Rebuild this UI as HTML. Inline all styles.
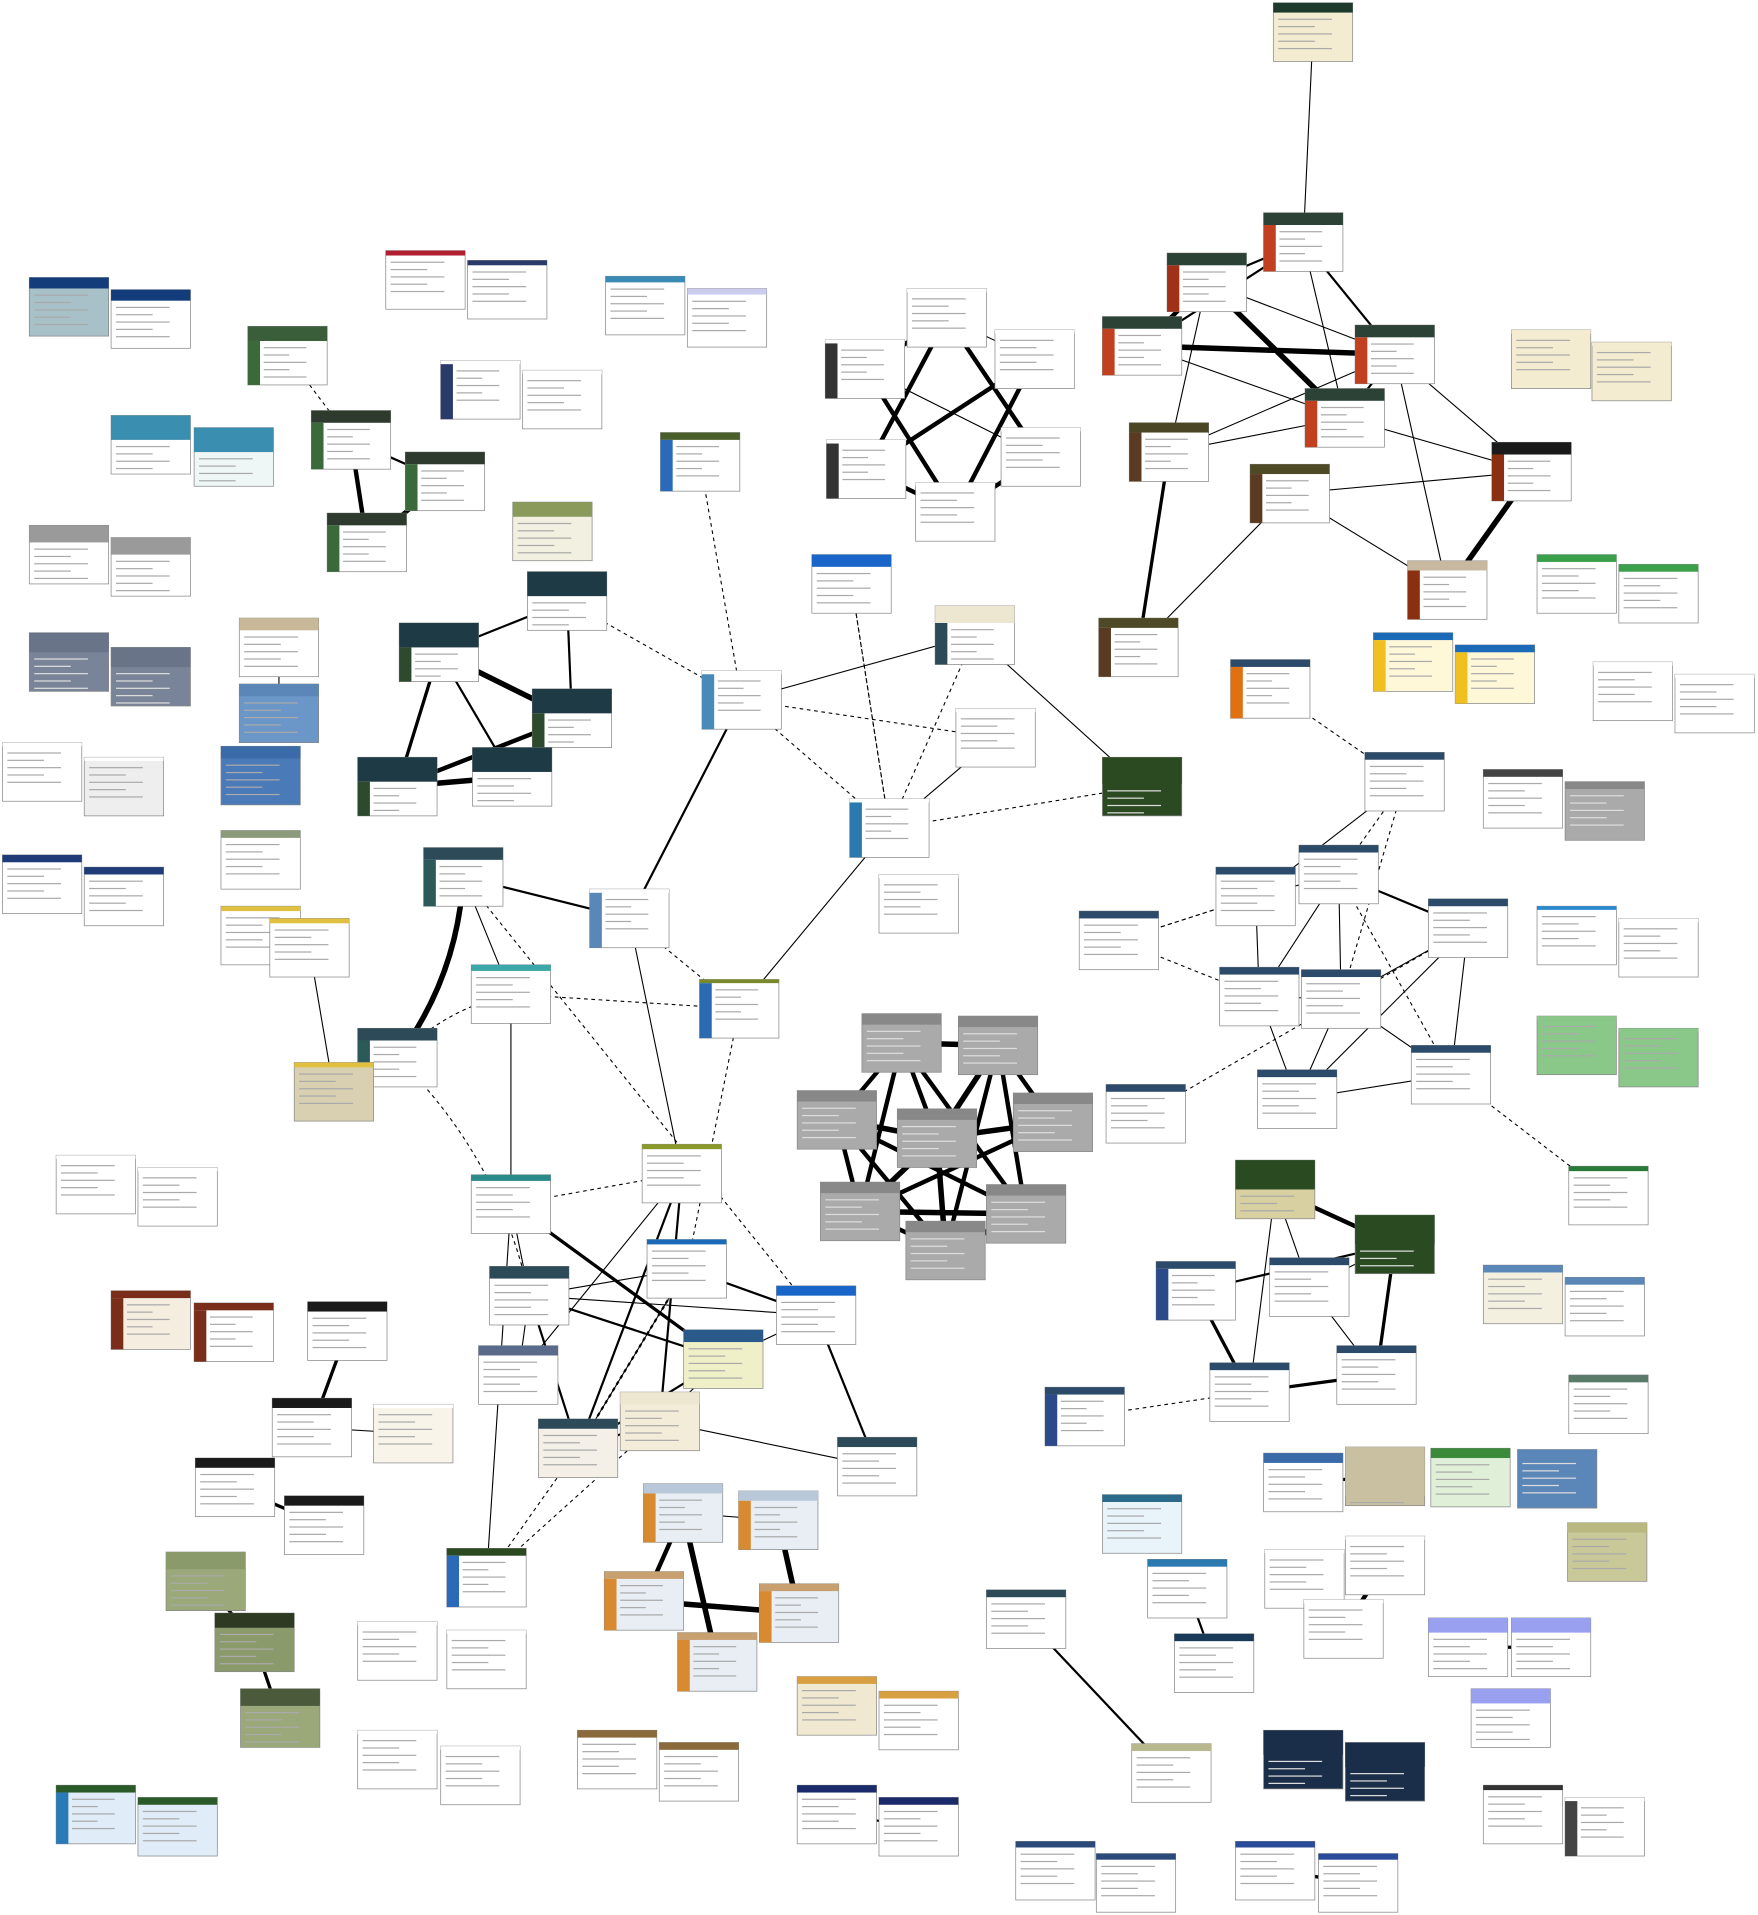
<!DOCTYPE html>
<html><head><meta charset="utf-8"><style>
html,body{margin:0;padding:0;background:#fff;}
svg{display:block;font-family:"Liberation Sans",sans-serif;}
</style></head><body>
<svg id="chart" width="1758" height="1915" viewBox="0 0 1440 1568" xmlns="http://www.w3.org/2000/svg">
<g id="edges"></g>
<g id="nodes"></g>
</svg>
<script>
// node ids, layout positions and thumbnail palette
const nodeIds = ["a1","a2","a3","a4","a5","a6","a7","a8","a9","a10","a11",
"b1","b2","b3","b4","b5","b6",
"l1","l2","l3","l4","l5","l6","l7","l8","l9","l10","l11","l12",
"p1","p2","p3","p4","p5","p6","g1","g2","g3","g4","o1","o2","e1","e2","e3","e4",
"t1","t2","t3","t4","t5","c1","c2","c3","c4","c5","c6","c7",
"s1","s2","s3","s4","s5","y1","y2","y3","w1","w2","r1","r2",
"k1","k2","k3","k4","k5",
"x1","x2","x3","x4","x5","x6","x7","x8",
"m1","m2","m3","m4","m5","m6","m7","m8","m9","m10","m11",
"lb1","lb2","lb3","lb4","lb5","v1","v2","v3","h1","h2","h3","h4","n1","n2","f1","f2","q1","q2","u1","u2","z1","z2","z3","z4","d1","d2",
"rb1","rb2","rb3","rb4","rb5","rb6","rb7","rb8","rb9","rb10","or1","bl1","bl2",
"cr1","cr2","gr1","gr2","wh1","wh2","gy1","gy2","ww1","ww2","lg1","lg2","sg1",
"dg1","dg2","dg3","dg4","dg5","dg6","dg7","pb1","pb2","sa1","bq1","bq2","bq3","bq4","ol1",
"tl1","tl2","tl3","wd1","wd2","wd3","lv1","lv2","lv3","nv1","nv2","gw1","gw2"];
const nodeX = [1043,1035,956,903,1110,1069,925,1024,1222,1153,900,
743,815,676,677,820,750,
24,91,91,159,24,91,24,91,2,69,2,69,
316,383,496,563,361,428,203,255,332,268,541,420,196,196,181,181,
432,327,436,293,387,575,766,783,696,903,665,720,
347,483,386,573,293,181,221,241,46,113,91,159,
252,223,306,160,233,
706,785,653,830,735,672,808,742,
386,526,530,401,636,560,392,441,508,686,366,
527,605,495,622,555,136,176,197,293,366,293,361,473,540,653,720,653,720,46,113,832,898,1012,1080,808,927,
1118,996,1064,1170,999,1066,1156,1030,884,906,1008,1125,1192,
1238,1304,1259,1326,1305,1372,1215,1282,1259,1326,1259,1326,1285,
1012,1110,947,1040,991,1095,856,1215,1282,1285,1035,1102,1172,1243,1284,
903,940,962,1036,1102,1068,1170,1238,1205,1035,1102,1215,1282];
const nodeY = [2,174,207,259,266,318,346,380,362,459,506,
236,270,278,360,350,395,
227,237,340,350,430,440,518,530,608,620,700,710,
205,213,226,236,295,303,267,336,370,420,354,411,506,560,611,680,
468,510,564,620,612,549,496,580,654,620,454,716,
694,728,790,802,842,742,752,870,946,956,1057,1067,
1066,1145,1150,1194,1225,
830,832,893,895,908,968,970,1000,
962,937,1015,1037,1053,1089,1102,1162,1140,1177,1268,
1215,1221,1287,1297,1337,1271,1321,1383,1328,1335,1417,1430,1417,1427,1373,1385,1462,1472,1462,1472,1508,1518,1508,1518,1302,1428,
616,710,692,736,792,794,856,876,746,888,540,518,528,
270,280,454,462,542,552,630,640,742,752,832,842,955,
950,995,1033,1030,1116,1102,1136,1036,1046,1126,1190,1185,1186,1187,1247,
1224,1277,1338,1269,1258,1310,1325,1325,1383,1417,1427,1462,1472];
const headerColors = ["#1e3a2c","#2c4236","#2c4236","#2c4236","#2c4236","#2c4236","#4a4524","#4f4a26","#1a1a1a","#c8b8a0","#4f4a26",
"#fff","#fff","#fff","#fff","#fff","#fff",
"#123c7a","#123c7a","#3a8eb0","#3a8eb0","#9a9a9a","#9a9a9a","#6a7488","#6a7488","#fff","#fff","#1f3c78","#1f3c78",
"#b02030","#2a3a6a","#3a8ab8","#cce","#fff","#fff","#3a5e3a","#2e3a2e","#2e3a2e","#2e3a2e","#4a5e2a","#8a9a5a","#c8b898","#5a86b8","#3a6aa8","#8a9a7a",
"#1e3a44","#1e3a44","#1e3a44","#1e3a44","#1e3a44","#fff","#ede6d0","#fff","#fff","#2c4a22","#1a66c8","#fff",
"#2c4a58","#fff","#3aa8a8","#7a8a2a","#2c4a58","#e0c040","#e0c040","#e0c040","#fff","#fff","#7a2e1a","#7a2e1a",
"#1a1a1a","#1a1a1a","#fff","#1a1a1a","#1a1a1a",
"#888","#888","#888","#888","#888","#888","#888","#888",
"#2a8a8a","#8a9a2a","#1a6ab8","#2c4a58","#1a66c8","#2a5a8a","#5a6a8a","#2c4a58","#ede6d0","#2c4a58","#2c4a22",
"#b8c8d8","#b8c8d8","#c8a070","#c8a070","#c8a070","#8a9a6a","#2e3a22","#4a5a3a","#fff","#fff","#fff","#fff","#8a6a3a","#8a6a3a","#d8a040","#d8a040","#1a2a6a","#1a2a6a","#2a5a2a","#2a5a2a","#2a4a7a","#2a4a7a","#2a4a9a","#2a4a9a","#2c4a58","#b8b890",
"#2c4a6a","#2c4a6a","#2c4a6a","#2c4a6a","#2c4a6a","#2c4a6a","#2c4a6a","#2c4a6a","#2c4a6a","#2c4a6a","#2c4a6a","#1a6ab8","#1a6ab8",
"#f3ecd0","#f3ecd0","#3aa04a","#3aa04a","#fff","#fff","#444","#888","#2a8ad0","#fff","#8ac88a","#8ac88a","#2a7a3a",
"#2a4a22","#2a4a22","#2c4a6a","#2c4a6a","#2c4a6a","#2c4a6a","#2c4a6a","#5a86b8","#5a86b8","#5a7a6a","#3a6aa8","#c8c0a0","#3a8a3a","#5a86b8","#b8b880",
"#2a6a8a","#2a7ab0","#1a3a5a","#fff","#fff","#fff","#9aa0f0","#9aa0f0","#9aa0f0","#1a2e4a","#1a2e4a","#333","#fff"];
const headerHeights = [8,10,10,10,10,10,8,8,10,8,8,
3,3,3,3,3,3,
9,9,20,20,14,14,16,16,3,3,6,6,
4,4,5,5,3,3,12,10,10,10,6,12,10,10,10,6,
20,20,20,20,20,3,14,3,3,22,10,3,
10,3,5,3,10,4,4,4,3,3,6,6,
8,8,3,8,8,
9,9,9,9,9,9,9,9,
5,4,4,10,8,10,8,8,10,8,6,
8,8,6,6,6,14,12,14,3,3,3,3,6,6,6,6,6,6,6,6,5,5,5,5,6,6,
6,6,6,6,6,6,6,6,6,6,6,6,6,
3,3,6,6,3,3,6,6,3,3,3,3,4,
24,24,6,6,6,6,6,6,6,6,8,40,8,6,8,
6,6,6,3,3,3,12,12,12,20,20,4,3];
const bodyColors = ["#f3ecd0","#fff","#fff","#fff","#fff","#fff","#fff","#fff","#fff","#fff","#fff",
"#fff","#fff","#fff","#fff","#fff","#fff",
"#a8c0c8","#fff","#fff","#eef6f6","#fff","#fff","#7a8498","#7a8498","#fff","#eee","#fff","#fff",
"#fff","#fff","#fff","#fff","#fff","#fff","#fff","#fff","#fff","#fff","#fff","#f2f0e0","#fff","#6a96c8","#4a7ab8","#fff",
"#fff","#fff","#fff","#fff","#fff","#fff","#fff","#fff","#fff","#2c4a22","#fff","#fff",
"#fff","#fff","#fff","#fff","#fff","#fff","#fff","#d8d0b0","#fff","#fff","#f5ede0","#fff",
"#fff","#fff","#f8f4ea","#fff","#fff",
"#aaa","#aaa","#aaa","#aaa","#aaa","#aaa","#aaa","#aaa",
"#fff","#fff","#fff","#fff","#fff","#f0f0c8","#fff","#f4f0e8","#f3ecd8","#fff","#fff",
"#e8eef4","#e8eef4","#e8eef4","#e8eef4","#e8eef4","#9aa87a","#8a9a6a","#9aa87a","#fff","#fff","#fff","#fff","#fff","#fff","#f0e8d0","#fff","#fff","#fff","#e0ecf8","#e0ecf8","#fff","#fff","#fff","#fff","#fff","#fff",
"#fff","#fff","#fff","#fff","#fff","#fff","#fff","#fff","#fff","#fff","#fff","#fff8d8","#fff8d8",
"#f3ecd0","#f3ecd0","#fff","#fff","#fff","#fff","#fff","#aaa","#fff","#fff","#8ac88a","#8ac88a","#fff",
"#d8d0a0","#2a4a22","#fff","#fff","#fff","#fff","#fff","#f4f0e0","#fff","#fff","#fff","#c8c0a0","#e0f0d8","#5a86b8","#c8c898",
"#e8f4fa","#fff","#fff","#fff","#fff","#fff","#fff","#fff","#fff","#1a2e4a","#1a2e4a","#fff","#fff"];
const sideColors = ["","#c04020","#a03018","#c04020","#c04020","#c04020","#5a3a20","#5a3a20","#8a3010","#8a3010","#5a3a20",
"","","#333","#333","","",
"","","","","","","","","","","","",
"","","","","#2a3a6a","","#3a6a3a","#3a6a3a","#3a6a3a","#3a6a3a","#2a6ab8","","","","","",
"","#2e4a2e","#2e4a2e","#2e4a2e","","#4a8ab8","#2c4a58","","#2a7ab0","","","",
"#2c5a58","#5a86b8","","#2a6ab0","#2c5a58","","","","","","#7a2e1a","#7a2e1a",
"","","","","",
"","","","","","","","",
"","","","","","","","","","","#2a6ab8",
"#d88a30","#d88a30","#d88a30","#d88a30","#d88a30","","","","","","","","","","","","","","#2a7ab8","","","","","","","",
"","","","","","","","","","","#e07010","#f0c020","#f0c020",
"","","","","","","","","","","","","",
"","","#2a4a8a","","","","#2c4a8a","","","","","","","","",
"","","","","","","","","","","","","#444"];

// edge list: source, target, stroke weight, dashed flag
const edgeFrom = ["a1","a2","a2","a2","a2","a3","a3","a4","a4","a3","a5","a7","a8","a9","a8","a6","a5","a8","a7","a7","a3","a5",
"b1","b1","b1","b2","b2","b3","b4","b4","b5","b1","b3","b6",
"g1","g2","g3","g4",
"t1","t1","t2","t2","t2","t3","t3","t4",
"c1","c1","c1","c3","c4","c1","c1","c6","c2","c1","c4","c2","c4",
"s1","s1","s1","s2","s3","s5","s2","s5","s1","s4",
"x1","x1","x1","x1","x2","x2","x2","x3","x3","x3","x4","x4","x5","x5","x6","x6","x7","x1","x2","x3",
"m1","m1","m1","m2","m4","m4","m3","m6","m2","m4","m1","m8","m9","m5","m6","m3","m4","m2","m10","m7","m8","m5","m6","m9",
"lb1","lb1","lb2","lb3","lb1",
"v1","v2","k1","k2","k4","d1","z3","q1","c10",
"dg1","dg1","dg1","dg2","dg3","dg3","dg4","dg5","dg7","dg4","dg2",
"rb1","rb1","rb2","rb3","rb3","rb3","rb4","rb5","rb5","rb6","rb6","rb7","rb8","rb2","rb3","rb9","rb10","or1","rb1","rb5","rb2","rb4","rb7",
"wd2","tl2","lv1","s3","y2","bq1","e2"];
const edgeTo = ["a2","a3","a4","a5","a6","a4","a5","a5","a6","a6","a6","a11","a11","a10","a9","a9","a10","a10","a5","a6","a7","a9",
"b3","b4","b5","b6","b4","b6","b6","b2","b6","b2","b5","b5",
"g2","g4","g2","g3",
"t2","t3","t3","t4","t5","t4","t5","t5",
"c2","c3","c4","c4","c5","t1","o1","c4","c5","s2","s4","c4","c6",
"s2","s3","s5","s4","s4","s3","m2","m4","m5","m3",
"x2","x3","x5","x7","x4","x5","x8","x5","x6","x7","x5","x6","x6","x8","x7","x8","x8","x6","x7","x8",
"m2","m4","m6","m7","m5","m6","m8","m8","m9","m8","m11","m9","m10","m10","m9","m8","m3","m8","m10","m4","m11","m3","m5","m11",
"lb3","lb5","lb4","lb4","lb2",
"v2","v3","k2","k3","k5","d2","z4","q2","m11",
"dg2","dg4","dg5","dg6","dg5","dg2","dg6","dg6","dg5","dg2","dg3",
"rb2","rb3","rb3","rb4","rb5","rb6","rb6","rb6","rb8","rb8","rb7","rb8","rb4","rb5","rb7","rb2","rb4","rb1","rb6","rb9","rb9","rb7","sg1",
"wd3","tl3","lv2","m1","y3","bq2","e1"];
const edgeWeight = [1,2,2,2,1,4,1,5,1,5,2,3,1,5,1,1,1,1,1,1,1,1,
4,4,4,4,1,4,4,4,4,1,1,1,
1,4,2,4,
2,2,5,3,2,4,2,5,
1,1,1,1,1,1,1,1,1,2,1,1,1,
2,1,5,1,1,1,1,1,1,1,
5,4,4,4,4,5,4,5,4,4,5,4,5,5,5,4,5,4,4,4,
1,1,3,1,1,2,1,2,2,2,1,2,1,2,1,2,1,2,1,1,1,2,1,1,
4,5,5,5,1,
3,3,3,1,3,2,3,2,1,
4,1,1,3,3,1,1,3,1,1,2,
1,1,1,2,1,1,1,1,1,1,1,1,1,1,1,1,1,1,1,1,1,1,1,
4,2,3,1,1,3,1];
const edgeDashed = [0,0,0,0,0,0,0,0,0,0,0,0,0,0,0,0,0,0,0,0,0,0,
0,0,0,0,0,0,0,0,0,0,0,0,
1,0,0,0,
0,0,0,0,0,0,0,0,
0,1,1,0,1,1,1,1,0,0,0,1,1,
0,0,0,1,1,1,0,1,1,1,
0,0,0,0,0,0,0,0,0,0,0,0,0,0,0,0,0,0,0,0,
1,0,0,0,0,0,0,0,0,0,0,0,0,0,0,1,0,0,0,0,1,0,0,1,
0,0,0,0,0,
0,0,0,0,0,0,0,0,1,
0,0,0,0,0,0,0,0,1,0,0,
0,1,0,0,0,0,0,0,0,0,0,0,0,0,1,1,1,1,1,1,1,0,1,
0,0,0,0,0,0,0,0];

const NS = "http://www.w3.org/2000/svg";
const W = 65, H = 48;
const px = i => nodeX[i];
const py = i => nodeY[i];
const idx = id => nodeIds.indexOf(id);
function mk(tag, attrs, parent){
  const e = document.createElementNS(NS, tag);
  for (const k in attrs) e.setAttribute(k, attrs[k]);
  parent.appendChild(e);
  return e;
}
const gE = document.getElementById("edges");
for (let j = 0; j < edgeFrom.length; j++){
  const a = idx(edgeFrom[j]), b = idx(edgeTo[j]);
  if (a < 0 || b < 0) continue;
  const x1 = px(a)+W/2, y1 = py(a)+H/2, x2 = px(b)+W/2, y2 = py(b)+H/2;
  const curved = edgeTo[j] === "s5" || edgeFrom[j] === "s5";
  const mx = (x1+x2)/2 + (curved ? (y2-y1)*0.15 : 0), my = (y1+y2)/2 - (curved ? (x2-x1)*0.15 : 0);
  const ln = mk("path", {d:"M"+x1+","+y1+" Q"+mx+","+my+" "+x2+","+y2, fill:"none",
    stroke:"#000", "stroke-width":edgeWeight[j]*0.9, "stroke-dasharray":edgeDashed[j]?"3,3":"none"}, gE);
  
  
}
const gN = document.getElementById("nodes");
for (let i = 0; i < nodeIds.length; i++){
  const x = px(i), y = py(i);
  const g = mk("g", {}, gN);
  
  
  mk("rect", {x:x, y:y, width:W, height:H, fill:bodyColors[i], stroke:"#888", "stroke-width":0.6}, g);
  const hh = headerHeights[i];
  mk("rect", {x:x, y:y, width:W, height:hh, fill:headerColors[i]}, g);
  let tx = x + 4;
  if (sideColors[i]){
    mk("rect", {x:x, y:y+hh, width:10, height:H-hh, fill:sideColors[i]}, g);
    tx = x + 13;
  }
  const dark = ["#2c4a22","#7a8498","#1a2e4a","#2a4a22","#5a86b8","#aaa"].includes(bodyColors[i]);
  for (let k = 0; k < 5; k++){
    const ly = y + hh + 5 + k*6;
    if (ly > y + H - 3) break;
    mk("rect", {x:tx, y:ly, width:(k%2? 30: 44) - (tx-x-4), height:1, fill: dark ? "#ddd" : "#aaa"}, g);
  }
}
</script>
</body></html>
